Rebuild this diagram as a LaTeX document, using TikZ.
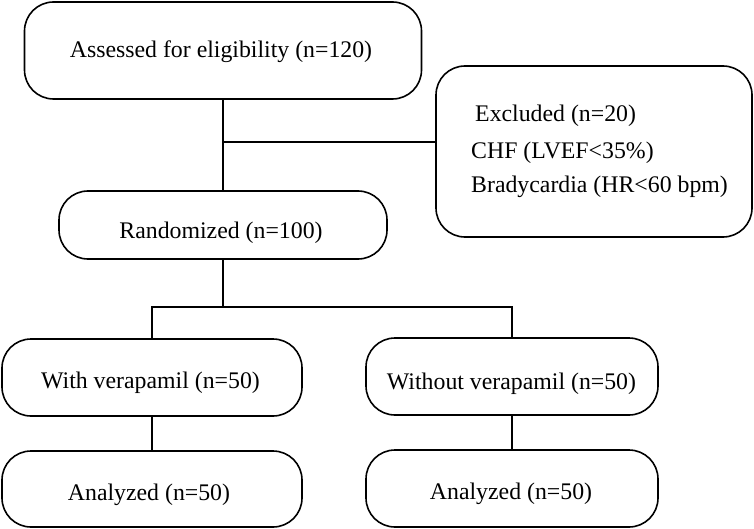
\documentclass[tikz,border=0pt]{standalone}
\usepackage{fontspec}
\setmainfont{Liberation Serif}
\begin{document}
\begin{tikzpicture}[x=1pt,y=-1pt,
  box/.style={draw, line width=1.6pt, rounded corners=29pt, inner sep=0pt},
  conn/.style={draw, line width=1.2pt},
  txt/.style={font=\fontsize{23.8}{28}\selectfont, inner sep=0pt, anchor=base}]
\useasboundingbox (0,0) rectangle (754,529);
% boxes
\node[box, minimum width=397pt, minimum height=97pt] (assess) at (223,50.5) {};
\node[box, minimum width=316pt, minimum height=171pt] (excl) at (594,151.5) {};
\node[box, minimum width=328pt, minimum height=68pt] (rand) at (223,225) {};
\node[box, minimum width=300pt, minimum height=77pt] (wv) at (152,377.5) {};
\node[box, minimum width=292pt, minimum height=77pt] (wov) at (512,376.5) {};
\node[box, minimum width=300pt, minimum height=76pt] (an1) at (152,489) {};
\node[box, minimum width=292pt, minimum height=77pt] (an2) at (512,488.5) {};
% texts
\node[txt] (t1) at (221,58) {Assessed for eligibility (n=120)};
\node[txt, anchor=base west] (t2) at (475,122) {Excluded (n=20)};
\node[txt, anchor=base west] (t3) at (471,159) {CHF (LVEF<35\%)};
\node[txt, anchor=base west] (t4) at (471,193) {Bradycardia (HR<60 bpm)};
\node[txt] (t5) at (221,238) {Randomized (n=100)};
\node[txt] (t6) at (150.5,388) {With verapamil (n=50)};
\node[txt] (t7) at (511.5,389) {Without verapamil (n=50)};
\node[txt] (t8) at (149,500) {Analyzed (n=50)};
\node[txt] (t9) at (511,499) {Analyzed (n=50)};
% connectors
\coordinate (j1) at (223,142);
\coordinate (j2) at (223,307);
\draw[conn] (assess.south) -- (rand.north);
\draw[conn] (j1) -- (j1 -| excl.west);
\draw[conn] (rand.south) -- (j2);
\draw[conn] (wv.north) |- (j2) -| (wov.north);
\draw[conn] (wv.south) -- (an1.north);
\draw[conn] (wov.south) -- (an2.north);
\end{tikzpicture}
\end{document}
